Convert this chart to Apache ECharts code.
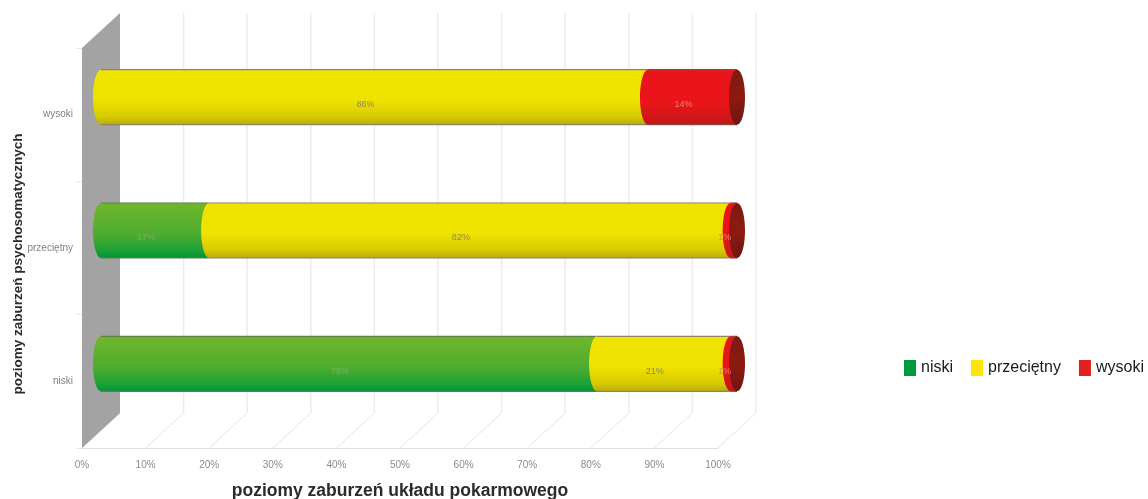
<!DOCTYPE html>
<html>
<head>
<meta charset="utf-8">
<style>html,body{margin:0;padding:0;background:#fff}#chart{width:1148px;height:499px}</style>
<script src="https://cdn.jsdelivr.net/npm/echarts@6/dist/echarts.min.js"></script>
</head>
<body>
<div id="chart"></div>
<script>
// Levels of psychosomatic disorders (rows) split by levels of digestive disorders (stack parts), in percent.
const categories = ['niski', 'przeciętny', 'wysoki'];
const niskiValues = [78, 17, 0];
const przecietnyValues = [21, 82, 86];
const wysokiValues = [1, 1, 14];
const xTicks = [0, 10, 20, 30, 40, 50, 60, 70, 80, 90, 100];
const xAxisTitle = 'poziomy zaburzeń układu pokarmowego';
const yAxisTitle = 'poziomy zaburzeń psychosomatycznych';

// Pseudo-3D projection: how far the back wall sits from the front plane of the grid.
const DEPTH_X = 38, DEPTH_Y = -35;
const BAR_RATIO = 0.4125, END_RX = 8;

function vGrad(stops) {
  return { type: 'linear', x: 0, y: 0, x2: 0, y2: 1,
    colorStops: stops.map(s => ({ offset: s[0], color: s[1] })) };
}
const palette = {
  niski: { legend: '#009a3d', fill: vGrad([[0, '#70b62c'], [0.55, '#4fad2e'], [0.85, '#1fa135'], [1, '#00963c']]), edge: '#5f7f45' },
  przeciętny: { legend: '#ffe600', fill: vGrad([[0, '#f2e400'], [0.55, '#f0e200'], [0.85, '#d8cb00'], [1, '#b9ac0a']]), edge: '#8f8560' },
  wysoki: { legend: '#e3201f', fill: vGrad([[0, '#e8141a'], [0.6, '#ea1519'], [1, '#c3161a']]), edge: '#8c4a3a' }
};

function wallItem(params, api) {
  const grid = params.coordSys;
  const x = api.coord([api.value(0), 0])[0];
  const bottom = grid.y + grid.height;
  const children = [
    { type: 'line', shape: { x1: x, y1: bottom, x2: x + DEPTH_X, y2: bottom + DEPTH_Y },
      style: { stroke: '#e4e4e4', lineWidth: 1 } }
  ];
  if (api.value(0) > 0) {
    children.push({ type: 'line', shape: { x1: x + DEPTH_X, y1: grid.y + DEPTH_Y, x2: x + DEPTH_X, y2: bottom + DEPTH_Y },
      style: { stroke: '#ececec', lineWidth: 1.5 } });
  } else {
    children.push({ type: 'polygon', shape: { points: [
      [x, grid.y], [x + DEPTH_X, grid.y + DEPTH_Y], [x + DEPTH_X, bottom + DEPTH_Y], [x, bottom]
    ] }, style: { fill: '#a3a3a3' } });
  }
  return { type: 'group', children };
}

function segmentItem(style) {
  return function (params, api) {
    const start = api.value(0), value = api.value(1), cat = api.value(2);
    if (value <= 0) return null;
    const end = start + value;
    const h = api.size([0, 1])[1] * BAR_RATIO;
    const p0 = api.coord([start, cat]);
    const p1 = api.coord([end, cat]);
    const pm = api.coord([start + value / 2, cat]);
    const x0 = p0[0] + DEPTH_X / 2, x1 = p1[0] + DEPTH_X / 2;
    const cy = p0[1] + DEPTH_Y / 2;
    const top = cy - h / 2, bot = cy + h / 2;
    const children = [
      { type: 'rect', shape: { x: x0, y: top, width: x1 - x0, height: h }, style: { fill: style.fill } },
      { type: 'ellipse', shape: { cx: x0, cy, rx: END_RX, ry: h / 2 }, style: { fill: style.fill } },
      { type: 'line', shape: { x1: x0, y1: top, x2: x1, y2: top }, style: { stroke: style.edge, lineWidth: 1.2 } },
      { type: 'line', shape: { x1: x0, y1: bot, x2: x1, y2: bot }, style: { stroke: style.edge, lineWidth: 1.2 } }
    ];
    if (end >= 100) {
      // Closing face of the cylinder
      children.push({ type: 'ellipse', shape: { cx: x1, cy, rx: END_RX, ry: h / 2 },
        style: { fill: vGrad([[0, '#7c1a12'], [0.5, '#8e1a10'], [1, '#6d1710']]) } });
    }
    children.push({ type: 'text', style: {
      text: value + '%', x: pm[0] + 10, y: pm[1] - 10, align: 'center', verticalAlign: 'middle',
      fill: style.labelColor, font: '9px "Liberation Sans"'
    } });
    return { type: 'group', children };
  };
}

function segmentData(values, lower) {
  return values.map((v, i) => [lower.reduce((s, arr) => s + arr[i], 0), v, i]);
}

const option = {
  backgroundColor: '#ffffff',
  animation: false,
  legend: {
    data: categories, left: 899, top: 355, width: 300, orient: 'horizontal',
    itemWidth: 12, itemHeight: 16, itemGap: 18, icon: 'rect', selectedMode: false,
    textStyle: { fontFamily: '"Liberation Sans"', fontSize: 16, color: '#1a1a1a' }
  },
  grid: { left: 82, top: 48, width: 636, height: 400, containLabel: false, outerBoundsMode: 'none' },
  xAxis: {
    type: 'value', min: 0, max: 100, interval: 10,
    splitLine: { show: false }, axisTick: { show: false },
    axisLine: { show: true, lineStyle: { color: '#e0e0e0', width: 1 } },
    axisLabel: { formatter: '{value}%', color: '#8a8a8a', fontSize: 10, margin: 12, fontFamily: '"Liberation Sans"',
      customValues: xTicks },
    name: xAxisTitle, nameLocation: 'middle', nameGap: 34,
    nameTextStyle: { fontFamily: '"Liberation Sans"', fontWeight: 'bold', fontSize: 17.5, color: '#2b2b2b' }
  },
  yAxis: {
    type: 'category', data: categories,
    axisLine: { show: false },
    axisTick: { show: true, length: 5, lineStyle: { color: '#e6e6e6' } },
    axisLabel: { color: '#808080', fontSize: 10, margin: 9, fontFamily: '"Liberation Sans"' },
    name: yAxisTitle, nameLocation: 'middle', nameGap: 57, nameMoveOverlap: false,
    nameTextStyle: { fontFamily: '"Liberation Sans"', fontWeight: 'bold', fontSize: 13.5, color: '#2b2b2b', padding: [0, 32, 0, 0] }
  },
  series: [
    { type: 'custom', name: 'siatka', z: 1, silent: true, renderItem: wallItem,
      data: xTicks.map(v => [v]), encode: { x: 0 } },
    { type: 'custom', name: 'niski', z: 2, renderItem: segmentItem({ fill: palette.niski.fill, edge: palette.niski.edge, labelColor: '#8aa86a' }),
      itemStyle: { color: palette.niski.legend }, encode: { x: 1, y: 2 },
      data: segmentData(niskiValues, []) },
    { type: 'custom', name: 'przeciętny', z: 3, renderItem: segmentItem({ fill: palette['przeciętny'].fill, edge: palette['przeciętny'].edge, labelColor: '#8f8a4a' }),
      itemStyle: { color: palette['przeciętny'].legend }, encode: { x: 1, y: 2 },
      data: segmentData(przecietnyValues, [niskiValues]) },
    { type: 'custom', name: 'wysoki', z: 4, renderItem: segmentItem({ fill: palette.wysoki.fill, edge: palette.wysoki.edge, labelColor: '#d98a70' }),
      itemStyle: { color: palette.wysoki.legend }, encode: { x: 1, y: 2 },
      data: segmentData(wysokiValues, [niskiValues, przecietnyValues]) }
  ]
};

echarts.init(document.getElementById('chart'), null, { renderer: 'canvas' }).setOption(option);
</script>
</body>
</html>
